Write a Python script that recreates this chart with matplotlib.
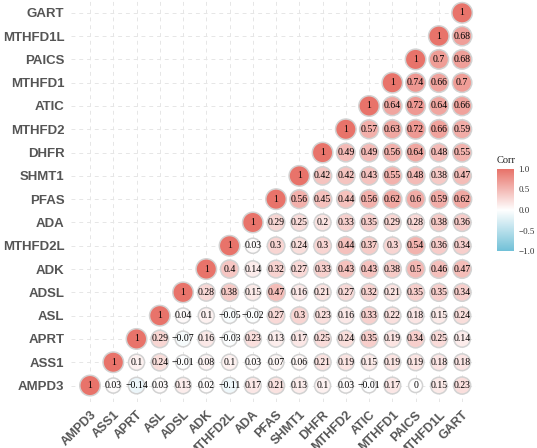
import numpy as np
import matplotlib.pyplot as plt
from matplotlib.colors import LinearSegmentedColormap

genes = ["AMPD3", "ASS1", "APRT", "ASL", "ADSL", "ADK", "MTHFD2L", "ADA", "PFAS",
         "SHMT1", "DHFR", "MTHFD2", "ATIC", "MTHFD1", "PAICS", "MTHFD1L", "GART"]

# upper triangle rows: row i holds corr(gene i, gene j) for j >= i
corr_rows = [
    [1, 0.03, -0.14, 0.03, 0.13, 0.02, -0.11, 0.17, 0.21, 0.13, 0.1, 0.03, -0.01, 0.17, 0, 0.15, 0.23],
    [1, 0.1, 0.24, -0.01, 0.08, 0.1, 0.03, 0.07, 0.06, 0.21, 0.19, 0.15, 0.19, 0.19, 0.18, 0.18],
    [1, 0.29, -0.07, 0.16, -0.03, 0.23, 0.13, 0.17, 0.25, 0.24, 0.35, 0.19, 0.34, 0.25, 0.14],
    [1, 0.04, 0.1, -0.05, -0.02, 0.27, 0.3, 0.23, 0.16, 0.33, 0.22, 0.18, 0.15, 0.24],
    [1, 0.28, 0.38, 0.15, 0.47, 0.16, 0.21, 0.27, 0.32, 0.21, 0.35, 0.35, 0.34],
    [1, 0.4, 0.14, 0.32, 0.27, 0.33, 0.43, 0.43, 0.38, 0.5, 0.46, 0.47],
    [1, 0.03, 0.3, 0.24, 0.3, 0.44, 0.37, 0.3, 0.54, 0.36, 0.34],
    [1, 0.29, 0.25, 0.2, 0.33, 0.35, 0.29, 0.28, 0.38, 0.36],
    [1, 0.56, 0.45, 0.44, 0.56, 0.62, 0.6, 0.59, 0.62],
    [1, 0.42, 0.42, 0.43, 0.55, 0.48, 0.38, 0.47],
    [1, 0.49, 0.49, 0.56, 0.64, 0.48, 0.55],
    [1, 0.57, 0.63, 0.72, 0.66, 0.59],
    [1, 0.64, 0.72, 0.64, 0.66],
    [1, 0.74, 0.66, 0.7],
    [1, 0.7, 0.68],
    [1, 0.68],
    [1],
]

cmap = LinearSegmentedColormap.from_list("corr", ["#72C1D8", "#FFFFFF", "#E8736A"])

xs, ys, vals = [], [], []
for i, row in enumerate(corr_rows):
    for k, v in enumerate(row):
        xs.append(i + k)
        ys.append(i)
        vals.append(v)
xs = np.array(xs)
ys = np.array(ys)
vals = np.array(vals, dtype=float)

fig = plt.figure(figsize=(5.37, 4.48), dpi=100)
ax = fig.add_axes([0.133, 0.103, 0.7535, 0.897])

n = len(genes)
ax.set_xlim(-0.8, n - 1 + 0.6)
ax.set_ylim(-0.7, n - 1 + 0.55)
ax.set_xticks(range(n))
ax.set_yticks(range(n))
ax.set_xticklabels(genes, rotation=45, ha="right", rotation_mode="anchor",
                   fontsize=9, fontweight="bold", color="#555555", family="Liberation Sans")
ax.set_yticklabels(genes, fontsize=9.5, fontweight="bold", color="#555555",
                   family="Liberation Sans")
ax.tick_params(length=0, pad=5)
for s in ax.spines.values():
    s.set_visible(False)
ax.grid(True, linestyle=(0, (4, 4)), color="#e6e6e6", linewidth=0.7)
ax.set_axisbelow(True)

# circle diameter in px grows with |r|
diam_px = 14 + 6.5 * np.sqrt(np.abs(vals))
sizes = (diam_px * 72 / 100) ** 2
ax.scatter(xs, ys, s=sizes, c=vals, cmap=cmap, vmin=-1, vmax=1,
           edgecolors="#d2d2d2", linewidths=1.1, zorder=3)


def fmt(v):
    s = f"{v:.2f}".rstrip("0").rstrip(".")
    if s in ("-0", ""):
        s = "0"
    return s.replace("-", "\u2212")


for x, y, v in zip(xs, ys, vals):
    ax.text(x, y, fmt(v), ha="center", va="center", fontsize=7,
            family="Liberation Serif", color="black", zorder=4)

# colour legend
cax = fig.add_axes([497 / 537, 1 - 251 / 448, 17 / 537, 82 / 448])
grad = np.linspace(-1, 1, 200).reshape(-1, 1)
cax.imshow(grad, cmap=cmap, vmin=-1, vmax=1, aspect="auto", origin="lower",
           extent=[0, 1, -1, 1])
cax.set_xticks([])
cax.yaxis.tick_right()
cax.set_yticks([-1, -0.5, 0, 0.5, 1])
cax.set_yticklabels(["\u22121.0", "\u22120.5", "0.0", "0.5", "1.0"],
                    fontsize=6.5, family="Liberation Serif", color="#333333")
cax.tick_params(length=0, pad=3)
for s in cax.spines.values():
    s.set_visible(False)
fig.text(497 / 537, 1 - 160 / 448, "Corr", fontsize=7.5, family="Liberation Serif",
         ha="left", va="center", color="#222222")

fig.savefig("out.png", dpi=100)
